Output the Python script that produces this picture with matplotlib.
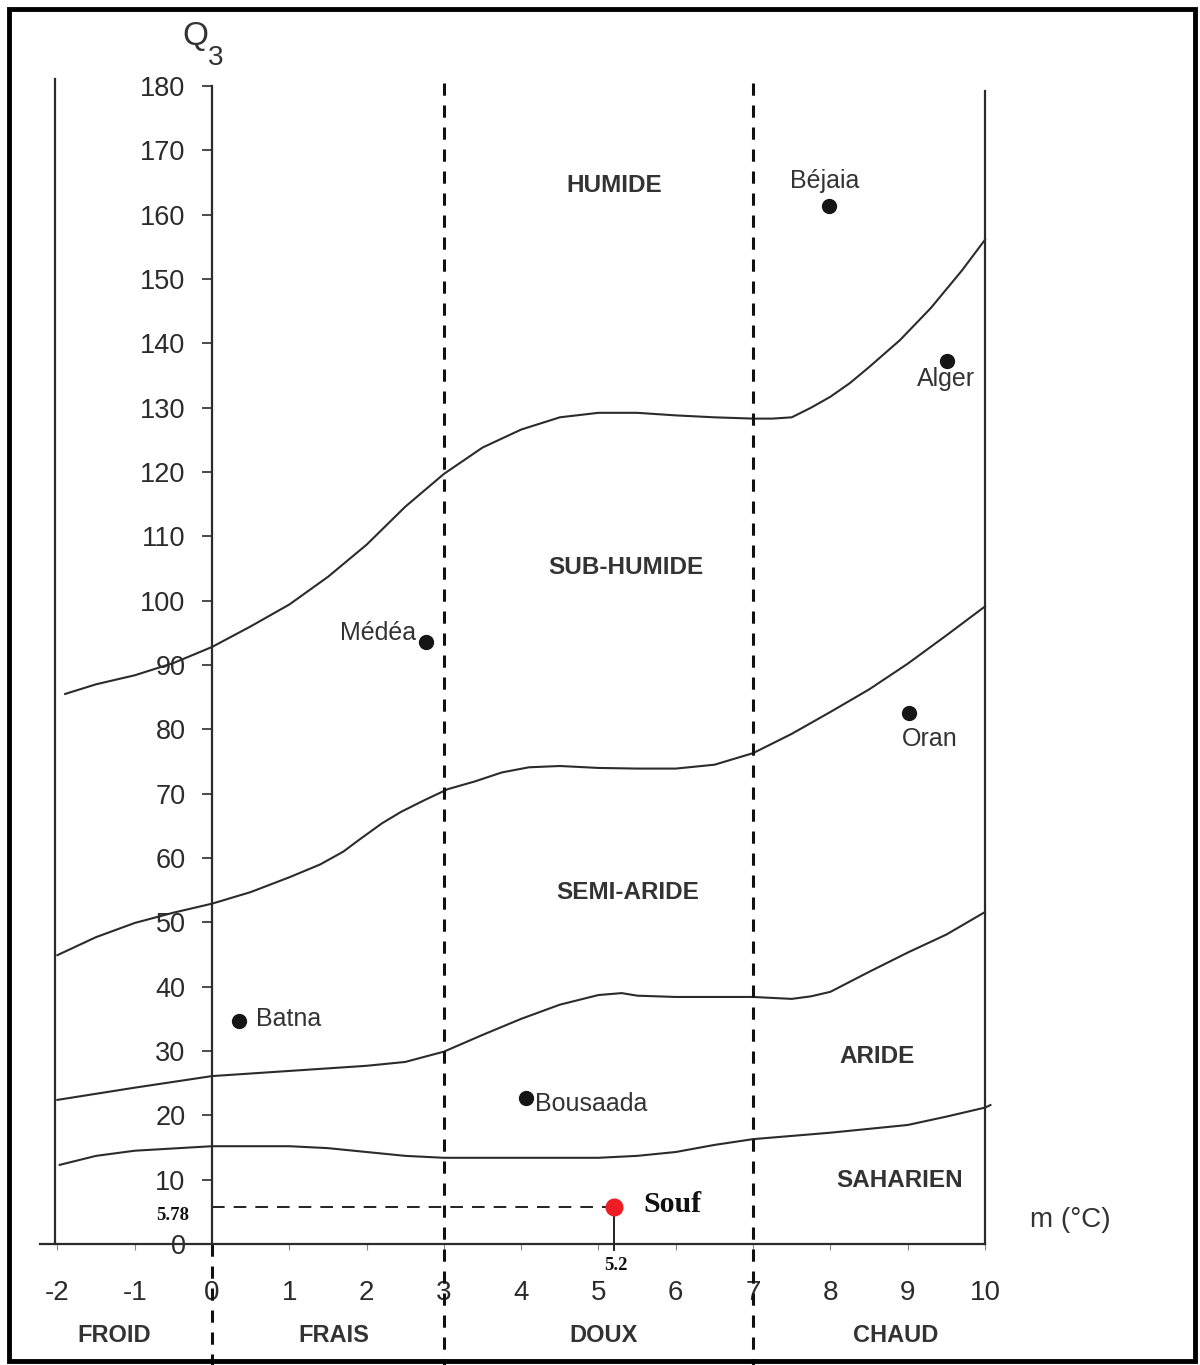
import matplotlib.pyplot as plt
from matplotlib.patches import Rectangle

plt.rcParams['font.family'] = ['Liberation Sans', 'DejaVu Sans']
plt.rcParams['axes.unicode_minus'] = False

# Emberger boundaries (m in degC, Q3)
x_hum = [-1.9, -1.5, -1, -0.5, 0, 0.5, 1, 1.5, 2, 2.5, 3, 3.5, 4, 4.5, 5, 5.5, 6, 6.5, 7, 7.25, 7.5, 7.75, 8,
         8.25, 8.5, 8.9, 9.3, 9.7, 10]
q_hum = [85.5, 87.0, 88.4, 90.3, 92.8, 96.0, 99.4, 103.7, 108.7, 114.6, 119.7, 123.8, 126.6, 128.5, 129.2, 129.2,
         128.8, 128.5, 128.3, 128.3, 128.5, 130.0, 131.7, 133.8, 136.3, 140.5, 145.5, 151.3, 156.1]

x_sub = [-2, -1.5, -1, -0.5, 0, 0.5, 1, 1.4, 1.7, 1.9, 2.2, 2.45, 2.75, 3.05, 3.4, 3.75, 4.1, 4.5, 5, 5.5, 6, 6.5,
         7, 7.5, 8, 8.5, 9, 9.5, 10]
q_sub = [44.9, 47.7, 49.9, 51.5, 52.9, 54.7, 57.0, 59.0, 61.0, 62.8, 65.4, 67.2, 69.0, 70.7, 71.9, 73.3, 74.1, 74.3,
         74.0, 73.9, 73.9, 74.5, 76.3, 79.3, 82.7, 86.2, 90.2, 94.6, 99.1]

x_semi = [-2, -1, 0, 1, 2, 2.5, 3, 3.5, 4, 4.5, 5, 5.3, 5.5, 6, 6.5, 7, 7.5, 7.75, 8, 8.5, 9, 9.5, 10]
q_semi = [22.4, 24.3, 26.1, 26.9, 27.7, 28.3, 29.9, 32.5, 35.0, 37.2, 38.7, 39.0, 38.6, 38.4, 38.4, 38.4, 38.1, 38.5,
          39.2, 42.3, 45.3, 48.1, 51.6]

x_sah = [-1.97, -1.5, -1, 0, 1, 1.5, 2, 2.5, 3, 4, 5, 5.5, 6, 6.5, 7, 7.5, 8, 9, 9.5, 10, 10.07]
q_sah = [12.3, 13.7, 14.5, 15.2, 15.2, 14.9, 14.3, 13.7, 13.4, 13.4, 13.4, 13.7, 14.3, 15.4, 16.3, 16.8, 17.3, 18.5,
         19.8, 21.2, 21.6]

stations = ['Béjaia', 'Alger', 'Médéa', 'Oran', 'Batna', 'Bousaada']
st_m = [7.98, 9.51, 2.77, 9.02, 0.35, 4.06]
st_q = [161.4, 137.3, 93.6, 82.6, 34.7, 22.7]

souf_m = 5.2
souf_q = 5.78

zones = ['HUMIDE', 'SUB-HUMIDE', 'SEMI-ARIDE', 'ARIDE', 'SAHARIEN']
hivers = ['FROID', 'FRAIS', 'DOUX', 'CHAUD']

fig = plt.figure(figsize=(12, 13.65), dpi=100)
ax = fig.add_axes([40 / 1200, 1 - 1244 / 1365, (985 - 40) / 1200, (1244 - 86) / 1365])
ax.set_xlim(-2.225, 10)
ax.set_ylim(0, 180)

ink = '#2b2b2b'
for xs, qs in [(x_hum, q_hum), (x_sub, q_sub), (x_semi, q_semi), (x_sah, q_sah)]:
    ax.plot(xs, qs, color=ink, lw=1.5, clip_on=False, solid_joinstyle='round')

# frame lines
ax.plot([-2.03, -2.03], [0, 181.1], color=ink, lw=1.6, clip_on=False)
ax.plot([10, 10], [0, 179.2], color=ink, lw=1.6, clip_on=False)
for xv in [3, 7]:
    ax.plot([xv, xv], [180.5, -18.9], color='#111', lw=2.2, ls=(0, (4, 3.2)), clip_on=False)
ax.plot([0, 0], [0, -18.9], color='#111', lw=2.2, ls=(0, (4, 3.2)), clip_on=False)

for sp in ['top', 'right']:
    ax.spines[sp].set_visible(False)
ax.spines['left'].set_position(('data', 0))
ax.spines['left'].set_color(ink)
ax.spines['left'].set_linewidth(1.6)
ax.spines['bottom'].set_color(ink)
ax.spines['bottom'].set_linewidth(1.6)

ax.set_yticks(range(0, 181, 10))
ax.set_xticks(range(-2, 11))
ax.tick_params(axis='y', length=7, width=1.2, color=ink, pad=12, labelsize=19.5, labelcolor=ink)
ax.tick_params(axis='x', length=4, width=0.8, color='#888', pad=22, labelsize=20, labelcolor=ink)

# stations
ax.plot(st_m, st_q, 'o', color='#151515', ms=10, clip_on=False)
lab_pos = [(7.92, 165.2, 'center'), (9.50, 134.5, 'center'), (2.64, 95.0, 'right'),
           (9.29, 78.5, 'center'), (0.57, 35.0, 'left'), (4.18, 21.8, 'left')]
for name, (lx, ly, ha) in zip(stations, lab_pos):
    ax.text(lx, ly, name, ha=ha, va='center', fontsize=18, color='#333')

# Souf
ax.plot([0, souf_m], [souf_q, souf_q], color='#111', lw=1.3, ls=(0, (7, 5)))
ax.plot([souf_m, souf_m], [souf_q, -1], color='#111', lw=1.3, clip_on=False)
ax.plot([souf_m], [souf_q], 'o', color='#ee1c24', ms=12, clip_on=False, zorder=5)
ax.text(5.58, 6.2, 'Souf', ha='left', va='center', fontsize=21.5, fontweight='bold',
        family='Liberation Serif', color='#111')
ax.text(-0.3, souf_q - 1.4, f'{souf_q}', ha='right', va='center', fontsize=13.5, fontweight='bold',
        family='Liberation Serif', color='#111')
ax.text(souf_m + 0.03, -3.3, f'{souf_m}', ha='center', va='center', fontsize=13.5, fontweight='bold',
        family='Liberation Serif', color='#111', clip_on=False)

# zone labels
zone_pos = [(5.21, 164.6), (5.36, 105.2), (5.38, 54.7), (8.60, 29.1), (8.90, 9.8)]
for z, (zx, zy) in zip(zones, zone_pos):
    ax.text(zx, zy, z, ha='center', va='center', fontsize=17.5, fontweight='bold', color='#333')
for h, hx in zip(hivers, [-1.27, 1.57, 5.06, 8.85]):
    ax.text(hx, -14.3, h, ha='center', va='center', fontsize=17, fontweight='bold', color='#333', clip_on=False)

ax.text(11.11, 3.7, 'm (°C)', ha='center', va='center', fontsize=20, color='#333', clip_on=False)
ax.text(-0.21, 187.7, 'Q', ha='center', va='center', fontsize=24, color='#333', clip_on=False)
ax.text(0.05, 184.3, '3', ha='center', va='center', fontsize=20, color='#333', clip_on=False)

fig.patches.append(Rectangle((9 / 1200, 4 / 1365), 1186 / 1200, 1352 / 1365, transform=fig.transFigure,
                             fill=False, edgecolor='black', lw=3.5))

fig.savefig('out.png', dpi=100)
